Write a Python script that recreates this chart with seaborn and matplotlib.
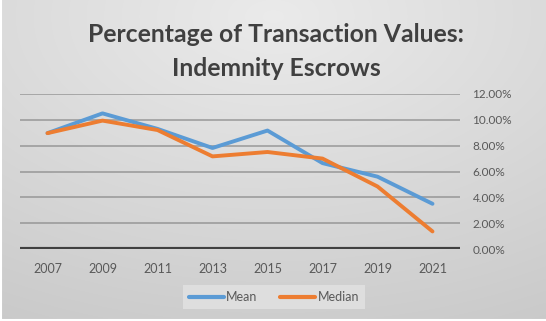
import numpy as np
import pandas as pd
import matplotlib
matplotlib.use("Agg")
import matplotlib.pyplot as plt
import seaborn as sns
from matplotlib.ticker import FuncFormatter
from matplotlib.lines import Line2D

years = ["2007", "2009", "2011", "2013", "2015", "2017", "2019", "2021"]
mean_vals = [0.0897, 0.1050, 0.0930, 0.0782, 0.0917, 0.0665, 0.0560, 0.0350]
median_vals = [0.0897, 0.0994, 0.0921, 0.0717, 0.0751, 0.0700, 0.0484, 0.0136]
series_names = ["Mean", "Median"]
colors = ["#5B9BD5", "#ED7D31"]
yticks = [0.0, 0.02, 0.04, 0.06, 0.08, 0.10, 0.12]

df = pd.DataFrame({
    "Year": years * 2,
    "Value": mean_vals + median_vals,
    "Series": [series_names[0]] * len(years) + [series_names[1]] * len(years),
})

sns.set_style("white")
plt.rcParams["font.family"] = ["Lato", "DejaVu Sans"]

W, H = 546, 321
fig = plt.figure(figsize=(W / 100, H / 100), dpi=100)

# background radial gradient
bg = fig.add_axes([0, 0, 1, 1], zorder=-10)
yy, xx = np.mgrid[0:H, 0:W]
cx, cy = W * 0.5, H * 0.05
r = np.sqrt(((xx - cx) / W) ** 2 + ((yy - cy) / H) ** 2)
r = r / r.max()
val = 0.92 - 0.13 * r
img = np.dstack([val, val, val])
bg.imshow(img, aspect="auto", extent=[0, 1, 0, 1], origin="upper")
bg.set_axis_off()
bg.plot([0.002, 0.002], [0, 1], color="white", lw=1.5, transform=bg.transAxes)
bg.plot([0, 1], [0.004, 0.004], color="white", lw=1.5, transform=bg.transAxes)

ax = fig.add_axes([20 / W, 1 - 249 / H, 440 / W, (249 - 94) / H])
ax.patch.set_alpha(0)

for yv in yticks[1:]:
    ax.axhline(yv, color="#8f8f8f", lw=1.3, alpha=0.75, zorder=1)
ax.axhline(0, color="#404040", lw=3.0, zorder=2)

sns.lineplot(data=df, x="Year", y="Value", hue="Series", palette=colors,
             linewidth=2.8, ax=ax, legend=False, zorder=3)

ax.set_xlim(-0.5, len(years) - 0.5)
ax.set_ylim(0, 0.12)
ax.yaxis.tick_right()
ax.set_yticks(yticks)
ax.yaxis.set_major_formatter(FuncFormatter(lambda v, p: f"{v*100:.2f}%"))
ax.tick_params(axis="y", length=0, pad=9, labelsize=8.5, labelcolor="#595959")
ax.tick_params(axis="x", length=0, pad=10, labelsize=9, labelcolor="#595959")
ax.set_xlabel("")
ax.set_ylabel("")
for s in ax.spines.values():
    s.set_visible(False)

fig.text(276 / W, 1 - 35 / H, "Percentage of Transaction Values:", ha="center",
         va="center", fontsize=17.8, fontweight="bold", color="#404040")
fig.text(276 / W, 1 - 68 / H, "Indemnity Escrows", ha="center",
         va="center", fontsize=17.8, fontweight="bold", color="#404040")

handles = [Line2D([], [], color=c, lw=3) for c in colors]
leg = fig.legend(handles, series_names, loc="center", bbox_to_anchor=(274 / W, 1 - 297 / H),
                 ncol=2, frameon=True, fontsize=9, handlelength=2.8, handletextpad=0.2,
                 columnspacing=1.8, borderpad=0.5)
leg.get_frame().set_facecolor("#dedede")
leg.get_frame().set_edgecolor("none")
leg.get_frame().set_alpha(1)
leg.get_frame().set_boxstyle("square", pad=0)
for t in leg.get_texts():
    t.set_color("#595959")

fig.savefig("out.png", dpi=100)
